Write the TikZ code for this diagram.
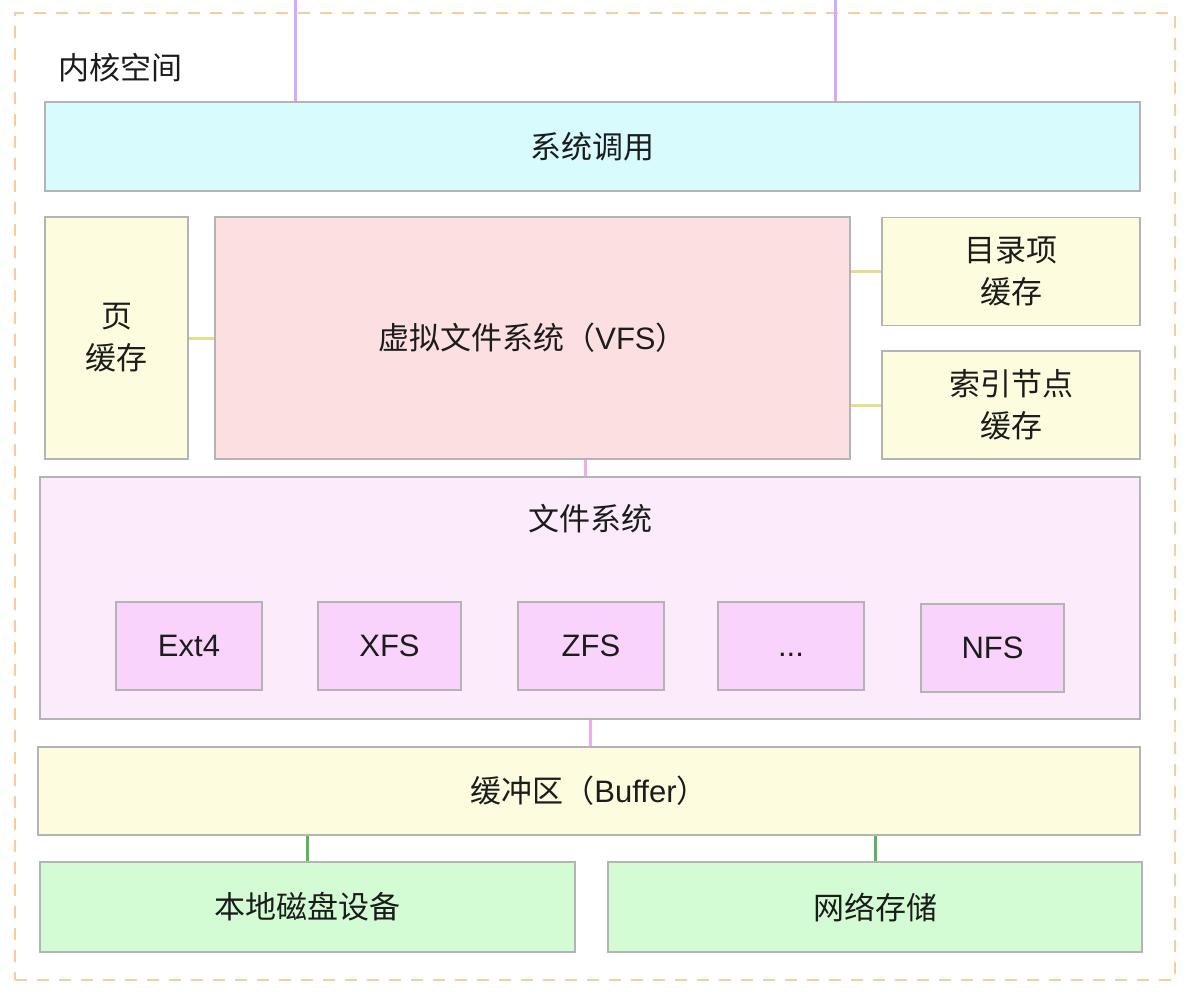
\documentclass[tikz,border=0pt]{standalone}
\usepackage{fontspec}
\setmainfont{Noto Sans CJK SC}
\newfontfamily\lat{Liberation Sans}
\begin{document}
\begin{tikzpicture}[x=1pt,y=-1pt,
  box/.style={draw=boxgray, line width=1.8pt, inner sep=0pt, text=textc,
    font=\fontsize{31}{42}\selectfont, align=center},
  lbl/.style={text=textc, font=\fontsize{31}{42}\selectfont},
  ylink/.style={draw=linkyellow, line width=3pt},
  plink/.style={draw=linkpink, line width=3pt},
  vlink/.style={draw=linkviolet, line width=3pt},
  glink/.style={draw=linkgreen, line width=3pt}]
\definecolor{boxgray}{HTML}{B4B4B4}
\definecolor{textc}{HTML}{1C1C1C}
\definecolor{cyanf}{HTML}{D8FCFE}
\definecolor{yellowf}{HTML}{FDFCDE}
\definecolor{vfsf}{HTML}{FCE0E1}
\definecolor{fsf}{HTML}{FBEBFB}
\definecolor{fsin}{HTML}{F9D3FB}
\definecolor{greenf}{HTML}{D4FCD4}
\definecolor{dashc}{HTML}{FCCB9C}
\definecolor{linkyellow}{HTML}{E2E08C}
\definecolor{linkpink}{HTML}{F2AAF2}
\definecolor{linkviolet}{HTML}{D2A9FF}
\definecolor{linkgreen}{HTML}{5DB35D}
\useasboundingbox (0,0) rectangle (1196,998);
\fill[white] (0,0) rectangle (1196,998);
% kernel space dashed frame
\node[draw=dashc, line width=1.8pt, dash pattern=on 12pt off 10pt,
  minimum width=1160pt, minimum height=967pt, inner sep=0pt] (kernel) at (595,496.5) {};
\node[lbl, anchor=west] (klabel) at (55,68) {内核空间};
% boxes
\node[box, fill=cyanf, minimum width=1095pt, minimum height=89pt] (sys) at (592.5,146.5) {系统调用};
\node[box, fill=yellowf, minimum width=143pt, minimum height=242pt] (page) at (116.5,338) {页\\缓存};
\node[box, fill=vfsf, minimum width=635pt, minimum height=242pt] (vfs) at (532.5,338) {虚拟文件系统（{\lat VFS}）};
\node[box, fill=yellowf, minimum width=258pt, minimum height=108pt] (dentry) at (1011,271.5) {目录项\\缓存};
\node[box, fill=yellowf, minimum width=258pt, minimum height=108pt] (inode) at (1011,405) {索引节点\\缓存};
\node[box, fill=fsf, minimum width=1100pt, minimum height=242pt] (fs) at (590,598) {};
\node[lbl] (fslabel) at (590,519) {文件系统};
\node[box, fill=fsin, minimum width=146pt, minimum height=88pt] (ext4) at (189,646) {\lat Ext4};
\node[box, fill=fsin, minimum width=143pt, minimum height=88pt] (xfs) at (389.5,646) {\lat XFS};
\node[box, fill=fsin, minimum width=146pt, minimum height=88pt] (zfs) at (591,646) {\lat ZFS};
\node[box, fill=fsin, minimum width=146pt, minimum height=88pt] (more) at (791,646) {\lat\vphantom{XFS}...};
\node[box, fill=fsin, minimum width=143pt, minimum height=88pt] (nfs) at (992.5,648) {\lat NFS};
\node[box, fill=yellowf, minimum width=1102pt, minimum height=88pt] (buf) at (589,791) {缓冲区（{\lat Buffer}）};
\node[box, fill=greenf, minimum width=535pt, minimum height=90pt] (local) at (307.5,907) {本地磁盘设备};
\node[box, fill=greenf, minimum width=534pt, minimum height=90pt] (net) at (875,907) {网络存储};
% connectors
\coordinate (in1) at (295,0);
\coordinate (in2) at (835,0);
\draw[vlink] (in1) -- (in1 |- sys.north);
\draw[vlink] (in2) -- (in2 |- sys.north);
\draw[ylink] (page) -- (vfs);
\draw[ylink] (vfs.east |- dentry.west) -- (dentry.west);
\draw[ylink] (vfs.east |- inode.west) -- (inode.west);
\coordinate (vx) at (585,0);
\draw[plink] (vx |- vfs.south) -- (vx |- fs.north);
\draw[plink] (fs.south) -- (fs.south |- buf.north);
\draw[glink] (local.north |- buf.south) -- (local.north);
\draw[glink] (net.north |- buf.south) -- (net.north);
\end{tikzpicture}
\end{document}
